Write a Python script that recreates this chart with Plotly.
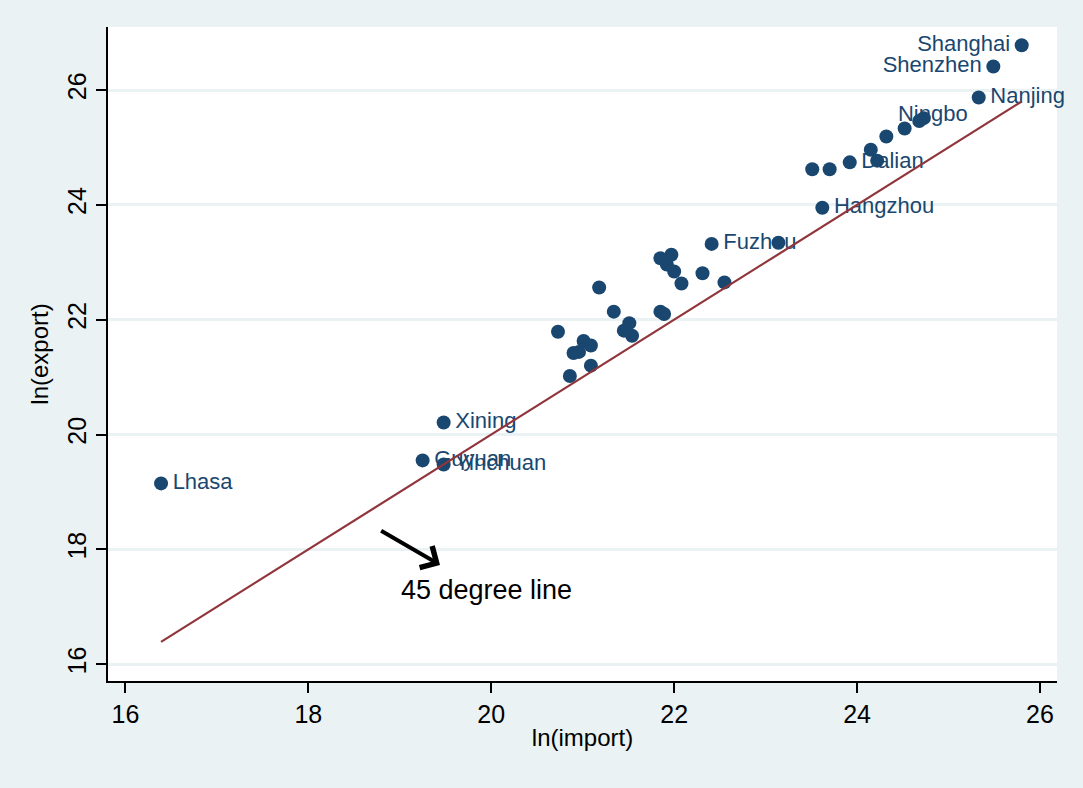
import plotly.graph_objects as go

# ---- data ----
city = ["Shanghai", "Shenzhen", "Nanjing", "", "", "", "Ningbo", "", "", "Dalian",
        "", "", "Hangzhou", "", "Fuzhou", "", "", "", "", "",
        "", "", "", "", "", "", "", "", "", "",
        "", "", "", "", "", "", "Xining", "Guyuan", "Yinchuan", "Lhasa"]
ln_import = [25.80, 25.49, 25.33, 24.73, 24.68, 24.52, 24.32, 24.22, 24.15, 23.92,
             23.70, 23.51, 23.62, 23.14, 22.41, 22.55, 22.31, 22.08, 22.00, 21.92,
             21.97, 21.85, 21.18, 21.34, 21.85, 21.89, 21.51, 21.45, 21.54, 20.73,
             21.01, 21.09, 20.96, 20.90, 21.09, 20.86, 19.48, 19.25, 19.48, 16.39]
ln_export = [26.78, 26.41, 25.87, 25.51, 25.46, 25.33, 25.19, 24.77, 24.96, 24.74,
             24.62, 24.62, 23.95, 23.34, 23.32, 22.65, 22.81, 22.63, 22.84, 22.96,
             23.13, 23.07, 22.56, 22.14, 22.14, 22.10, 21.94, 21.81, 21.72, 21.79,
             21.63, 21.55, 21.44, 21.42, 21.20, 21.02, 20.21, 19.55, 19.48, 19.15]
x_ticks = [16, 18, 20, 22, 24, 26]
y_ticks = [16, 18, 20, 22, 24, 26]
arrow_tail = (18.78, 18.34)
arrow_head = (19.44, 17.73)
note_text = "45 degree line"
note_pos = (19.95, 17.29)

NAVY = "#1A476F"
CRAN = "#90353B"
BG = "#EAF2F3"
FONT = "Liberation Sans, Arial, sans-serif"

left_labels = {"Shanghai", "Shenzhen"}
top_labels = {"Ningbo"}
positions = []
for c in city:
    if c in left_labels:
        positions.append("middle left")
    elif c in top_labels:
        positions.append("top right")
    else:
        positions.append("middle right")

HS = "\u200a"
label_text = []
for c in city:
    if not c:
        label_text.append("")
    elif c in left_labels:
        label_text.append(c + HS)
    else:
        label_text.append(HS + c)

fig = go.Figure()
# labels first (invisible markers keep the text offset), points drawn on top
fig.add_trace(go.Scatter(
    x=ln_import, y=ln_export, mode="markers+text",
    text=label_text,
    textposition=positions,
    textfont=dict(family=FONT, size=22, color=NAVY),
    marker=dict(color="rgba(0,0,0,0)", size=14, line=dict(width=0)),
    showlegend=False, cliponaxis=False, hoverinfo="skip",
))
fig.add_trace(go.Scatter(
    x=ln_import, y=ln_export, mode="markers",
    marker=dict(color=NAVY, size=14, line=dict(width=0)),
    showlegend=False, cliponaxis=False,
))
lo, hi = min(ln_import), max(ln_import)
fig.add_trace(go.Scatter(
    x=[lo, hi], y=[lo, hi], mode="lines",
    line=dict(color=CRAN, width=2.2), showlegend=False,
))

fig.add_annotation(
    x=arrow_head[0], y=arrow_head[1], ax=arrow_tail[0], ay=arrow_tail[1],
    xref="x", yref="y", axref="x", ayref="y", text="",
    showarrow=True, arrowhead=4, arrowsize=1.2, arrowwidth=4, arrowcolor="black",
)
fig.add_annotation(
    x=note_pos[0], y=note_pos[1], xref="x", yref="y", text=note_text,
    showarrow=False, font=dict(family=FONT, size=27, color="black"),
)

fig.update_layout(
    width=1083, height=788,
    paper_bgcolor=BG, plot_bgcolor="white",
    margin=dict(l=108, r=26, t=27, b=107),
    font=dict(family=FONT, size=24, color="black"),
)
fig.update_xaxes(
    range=[15.81, 26.186], tickvals=x_ticks, ticktext=[str(v) for v in x_ticks],
    showgrid=False, zeroline=False, showline=True, linecolor="black", linewidth=2,
    ticks="outside", ticklen=10, tickwidth=2, tickcolor="black",
    tickfont=dict(size=25), automargin=False,
    title=dict(text="ln(import)", font=dict(size=24), standoff=2),
)
fig.update_yaxes(
    range=[15.709, 27.097], tickvals=y_ticks, ticktext=[str(v) for v in y_ticks],
    showgrid=True, gridcolor=BG, gridwidth=3, zeroline=False,
    showline=True, linecolor="black", linewidth=2,
    ticks="outside", ticklen=10, tickwidth=2, tickcolor="black",
    tickangle=-90, tickfont=dict(size=25), automargin=False,
    title=dict(text="ln(export)", font=dict(size=24), standoff=8),
)

fig.write_html(
    "out.html",
    config={"displayModeBar": False},
    post_script="document.body.style.margin='0';document.body.style.background='#EAF2F3';",
)
